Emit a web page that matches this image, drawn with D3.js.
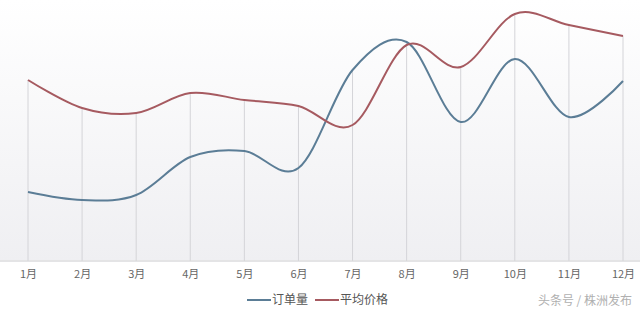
<!DOCTYPE html>
<html>
<head>
<meta charset="utf-8">
<script src="https://cdn.jsdelivr.net/npm/d3@7"></script>
<style>
  body { margin: 0; background: #fff; }
  svg { display: block; }
</style>
</head>
<body>
<div id="chart"></div>
<script>
const months = ["1月","2月","3月","4月","5月","6月","7月","8月","9月","10月","11月","12月"];
const orders = [69, 61, 66, 104, 110, 93, 191, 219, 139, 202, 144, 180];
const prices = [181, 153, 148, 168, 161, 155, 136, 216, 194, 247, 236, 225];
const seriesNames = ["订单量", "平均价格"];
const seriesColors = ["#5b7d96", "#a65a60"];

const width = 640, height = 311;
const svg = d3.select("#chart").append("svg")
  .attr("width", width)
  .attr("height", height);

const defs = svg.append("defs");
const grad = defs.append("linearGradient")
  .attr("id", "bg")
  .attr("x1", 0).attr("y1", 0).attr("x2", 0).attr("y2", 1);
grad.append("stop").attr("offset", "0%").attr("stop-color", "#ffffff");
grad.append("stop").attr("offset", "100%").attr("stop-color", "#efeff2");

svg.append("rect")
  .attr("x", 0).attr("y", 0)
  .attr("width", width).attr("height", 262)
  .attr("fill", "url(#bg)");

const x = d3.scalePoint()
  .domain(months)
  .range([28, 623]);

const y = d3.scaleLinear()
  .domain([0, 250])
  .range([261, 11]);

// drop lines
svg.append("g")
  .selectAll("line")
  .data(months)
  .join("line")
  .attr("x1", d => x(d))
  .attr("x2", d => x(d))
  .attr("y1", (d, i) => y(Math.max(orders[i], prices[i])))
  .attr("y2", y(0))
  .attr("stroke", "#d4d4d8")
  .attr("stroke-width", 1);

// x axis
const xAxis = svg.append("g")
  .attr("transform", `translate(0,${y(0)})`)
  .call(d3.axisBottom(x).tickSize(0).tickPadding(9));
xAxis.select(".domain").remove();
xAxis.append("line")
  .attr("x1", 0).attr("x2", width)
  .attr("stroke", "#d9d9d9");
xAxis.selectAll("text")
  .attr("fill", "#666")
  .style("font-family", "'Noto Sans CJK SC', sans-serif")
  .style("font-size", "11px");

const line = d3.line()
  .x((d, i) => x(months[i]))
  .y(d => y(d))
  .curve(d3.curveCatmullRom.alpha(0));

[orders, prices].forEach((s, k) => {
  svg.append("path")
    .datum(s)
    .attr("d", line)
    .attr("fill", "none")
    .attr("stroke", seriesColors[k])
    .attr("stroke-width", 2);
});

// legend
const legend = svg.append("g").attr("transform", "translate(247,300)");
const legendX = [0, 68];
seriesNames.forEach((name, k) => {
  const g = legend.append("g").attr("transform", `translate(${legendX[k]},0)`);
  g.append("line")
    .attr("x1", 0).attr("x2", 24)
    .attr("stroke", seriesColors[k])
    .attr("stroke-width", 2);
  g.append("text")
    .attr("x", 25).attr("y", 4)
    .text(name)
    .attr("fill", "#555")
    .style("font-family", "'Noto Sans CJK SC', sans-serif")
    .style("font-size", "12px");
});

svg.append("text")
  .attr("x", 632).attr("y", 305)
  .attr("text-anchor", "end")
  .text("头条号 / 株洲发布")
  .attr("fill", "#b0b0b0")
  .style("font-family", "'Noto Sans CJK SC', sans-serif")
  .style("font-size", "12px");
</script>
</body>
</html>
